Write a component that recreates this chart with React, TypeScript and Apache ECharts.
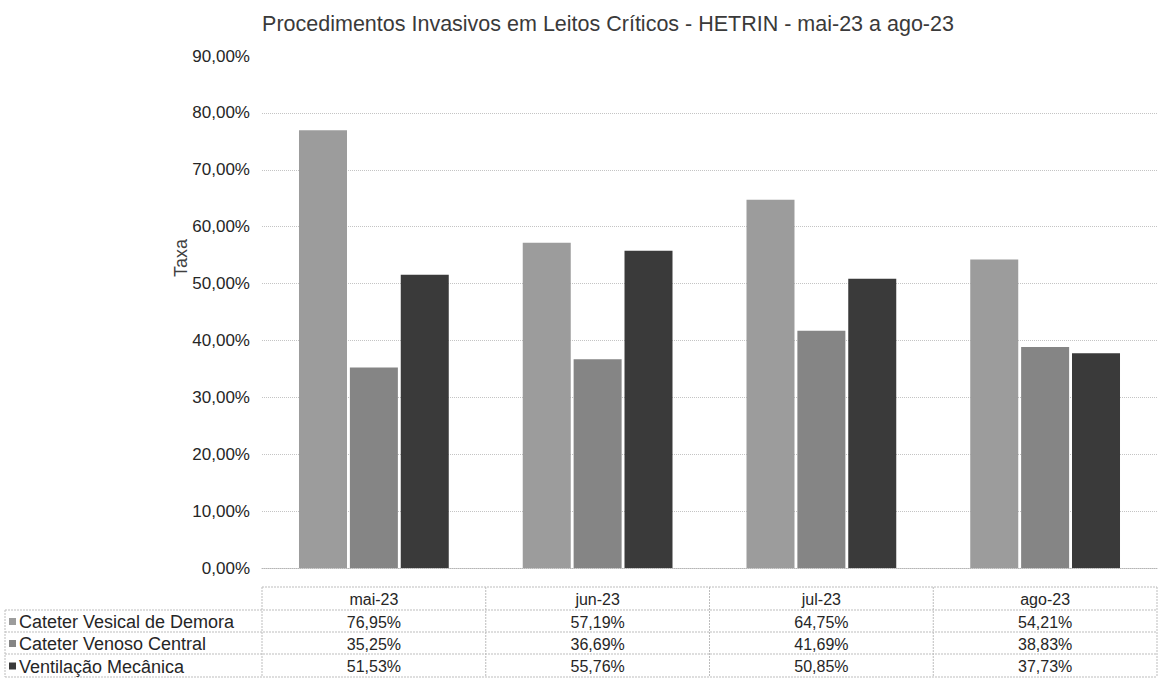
import React, { useEffect, useRef } from "react";
import * as echarts from "echarts";

const categories = ["mai-23", "jun-23", "jul-23", "ago-23"];
const seriesNames = ["Cateter Vesical de Demora", "Cateter Venoso Central", "Ventilação Mecânica"];
const cvdValues = [76.95, 57.19, 64.75, 54.21];
const cvcValues = [35.25, 36.69, 41.69, 38.83];
const vmValues = [51.53, 55.76, 50.85, 37.73];
const yTicks = [0, 10, 20, 30, 40, 50, 60, 70, 80, 90];
const titleText = "Procedimentos Invasivos em Leitos Críticos - HETRIN - mai-23 a ago-23";
const yAxisName = "Taxa";

const seriesValues = [cvdValues, cvcValues, vmValues];
const colors = ["#9c9c9c", "#858585", "#3a3a3a"];
const fontFamily = "'Liberation Sans', Arial, sans-serif";

const fmt = (v: number) => v.toFixed(2).replace(".", ",") + "%";

export default function App() {
  const ref = useRef<HTMLDivElement>(null);
  useEffect(() => {
    if (!ref.current) return;
    const chart = echarts.init(ref.current, null, { renderer: "svg" });
    const W = 1158;
    const gridLeft = 262;
    const gridRight = 1157;
    const cw = (gridRight - gridLeft) / categories.length;
    const rowsY = [587, 610, 632, 654, 677];
    const tableLeft = 5;
    const lineStyle = { stroke: "#bdbdbd", lineWidth: 1, lineDash: [2, 1] };

    const graphics: any[] = [];
    graphics.push({
      type: "text",
      x: 181,
      y: 258,
      rotation: Math.PI / 2,
      style: {
        text: yAxisName,
        fill: "#404040",
        font: `18px ${fontFamily}`,
        align: "center",
        verticalAlign: "middle",
      },
    });
    graphics.push({
      type: "line",
      shape: { x1: gridLeft, y1: rowsY[0], x2: gridRight, y2: rowsY[0] },
      style: lineStyle,
    });
    for (let i = 1; i < rowsY.length; i++) {
      graphics.push({
        type: "line",
        shape: { x1: tableLeft, y1: rowsY[i], x2: gridRight, y2: rowsY[i] },
        style: lineStyle,
      });
    }
    graphics.push({
      type: "line",
      shape: { x1: tableLeft, y1: rowsY[1], x2: tableLeft, y2: rowsY[4] },
      style: lineStyle,
    });
    for (let k = 0; k <= categories.length; k++) {
      const x = gridLeft + k * cw;
      graphics.push({
        type: "line",
        shape: { x1: x, y1: rowsY[0], x2: x, y2: rowsY[4] },
        style: lineStyle,
      });
    }
    categories.forEach((c, k) => {
      graphics.push({
        type: "text",
        x: gridLeft + (k + 0.5) * cw,
        y: (rowsY[0] + rowsY[1]) / 2 + 1,
        style: {
          text: c,
          fill: "#262626",
          font: `16px ${fontFamily}`,
          align: "center",
          verticalAlign: "middle",
        },
      });
    });
    seriesNames.forEach((name, r) => {
      const cy = (rowsY[r + 1] + rowsY[r + 2]) / 2 + 1;
      graphics.push({
        type: "rect",
        shape: { x: 9, y: cy - 4, width: 7, height: 7 },
        style: { fill: colors[r] },
      });
      graphics.push({
        type: "text",
        x: 19,
        y: cy,
        style: {
          text: name,
          fill: "#262626",
          font: `18px ${fontFamily}`,
          align: "left",
          verticalAlign: "middle",
        },
      });
      seriesValues[r].forEach((v, k) => {
        graphics.push({
          type: "text",
          x: gridLeft + (k + 0.5) * cw,
          y: cy,
          style: {
            text: fmt(v),
            fill: "#262626",
            font: `16px ${fontFamily}`,
            align: "center",
            verticalAlign: "middle",
          },
        });
      });
    });

    chart.setOption({
      animation: false,
      backgroundColor: "#ffffff",
      textStyle: { fontFamily },
      title: {
        text: titleText,
        left: 603,
        top: 8,
        textAlign: "center",
        textStyle: { fontSize: 21.5, fontWeight: "normal", color: "#3a3a3a", fontFamily },
      },
      grid: { left: gridLeft, right: W - gridRight, top: 56, bottom: 695 - 568, containLabel: false },
      xAxis: {
        type: "category",
        data: categories,
        axisLabel: { show: false },
        axisTick: { show: false },
        axisLine: { lineStyle: { color: "#b5b5b5", type: "dotted", width: 1 } },
      },
      yAxis: {
        type: "value",
        min: yTicks[0],
        max: yTicks[yTicks.length - 1],
        interval: 10,
        axisLabel: {
          formatter: (v: number) => fmt(v),
          fontSize: 17,
          color: "#262626",
          margin: 12,
          fontFamily,
        },
        axisLine: { show: false },
        axisTick: { show: false },
        splitLine: {
          showMaxLine: false,
          lineStyle: { color: "#c4c4c4", type: "dotted", width: 1 },
        },
      },
      series: seriesNames.map((name, r) => ({
        name,
        type: "bar",
        data: seriesValues[r],
        barWidth: 48,
        barGap: "6%",
        itemStyle: { color: colors[r] },
      })),
      graphic: graphics,
    });
    return () => chart.dispose();
  }, []);
  return <div ref={ref} style={{ width: 1158, height: 695, position: "absolute", left: 0, top: 0 }} />;
}
